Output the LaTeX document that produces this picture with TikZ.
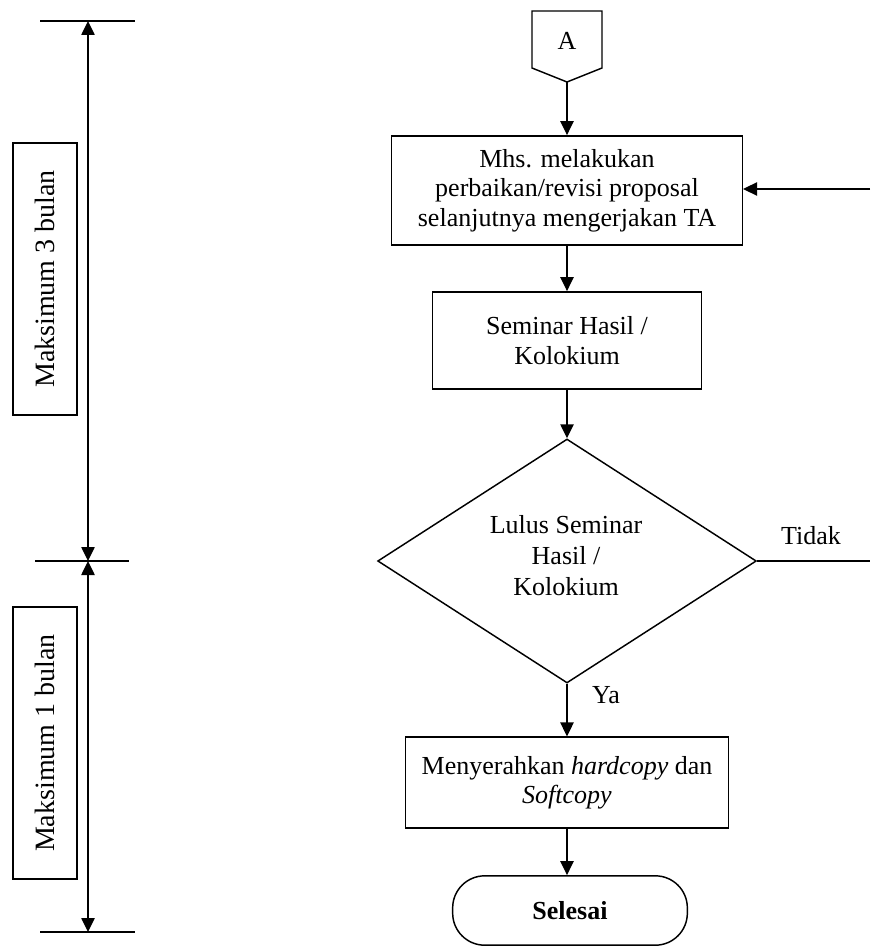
\documentclass[tikz,border=0pt]{standalone}
\usepackage{fontspec}
\setmainfont{Liberation Serif}
\usetikzlibrary{arrows.meta,shapes.geometric}
\begin{document}
\begin{tikzpicture}[x=0.75pt,y=-0.75pt,
  txt/.style={font=\fontsize{19.5}{22}\selectfont, inner sep=0pt, align=center},
  box/.style={txt, draw, line width=1.1pt},
  conn/.style={line width=1.1pt, -{Triangle[length=10.5pt,width=10pt]}},
  dconn/.style={line width=1.1pt, {Triangle[length=10.5pt,width=10pt]}-{Triangle[length=10.5pt,width=10pt]}},
  plain/.style={line width=1.1pt},
]
\useasboundingbox (0,0) rectangle (870,948);

% ---- off-page connector A ----
\draw[plain] (532,11) -- (602,11) -- (602,68) -- (567,82) -- (532,68) -- cycle;
\node[txt] (A) at (567,41) {A};
\coordinate (Atip) at (567,82);

% ---- process boxes ----
\node[box, minimum width=263pt, minimum height=82pt] (b1) at (567,190.5)
  {Mhs. melakukan\\perbaikan/revisi proposal\\selanjutnya mengerjakan TA};
\node[box, minimum width=202pt, minimum height=73pt] (b2) at (567,340.5)
  {Seminar Hasil /\\Kolokium};
\node[draw, line width=1.1pt, diamond, shape aspect=1.557, inner sep=0pt,
      minimum width=284pt, minimum height=183pt] (d) at (567,561) {};
\node[txt, font=\fontsize{19.5}{23.25}\selectfont] (dt) at (566,556)
  {Lulus Seminar\\Hasil /\\Kolokium};
\node[box, minimum width=242pt, minimum height=68pt] (b3) at (567,782.5)
  {Menyerahkan \textit{hardcopy} dan\\\textit{Softcopy}};
\node[txt, draw, line width=1.1pt, rounded corners=24pt, font=\fontsize{19.5}{22}\selectfont\bfseries,
      minimum width=176pt, minimum height=52pt] (t) at (570,910.5) {Selesai};

% ---- flow connectors ----
\draw[conn] (Atip) -- (b1.north);
\draw[conn] (b1.south) -- (b2.north);
\draw[conn] (b2.south) -- (d.north);
\draw[conn] (d.south) -- (b3.north);
\draw[conn] (b3.south) -- (t.north -| b3.south);

\coordinate (rin) at (870,189);
\draw[conn] (rin) -- (b1.east |- rin);
\coordinate (tout) at (870,561);
\draw[plain] (d.east) -- (tout);
\node[txt] (tidak) at (811,536) {Tidak};
\node[txt] (ya) at (606,695) {Ya};

% ---- left time scale ----
\coordinate (l1a) at (40,21);  \coordinate (l1b) at (135,21);
\coordinate (l2a) at (35,561); \coordinate (l2b) at (129,561);
\coordinate (l3a) at (40,932); \coordinate (l3b) at (135,932);
\draw[plain] (l1a) -- (l1b);
\draw[plain] (l2a) -- (l2b);
\draw[plain] (l3a) -- (l3b);
\coordinate (v1) at (88,21);
\coordinate (v2) at (88,561);
\coordinate (v3) at (88,932);
\draw[dconn] (v1) -- (v2);
\draw[dconn] (v2) -- (v3);

\node[box, rotate=90, font=\fontsize{21}{24}\selectfont, minimum width=204pt, minimum height=48pt] (m3) at (45,279) {Maksimum 3 bulan};
\node[box, rotate=90, font=\fontsize{21}{24}\selectfont, minimum width=204pt, minimum height=48pt] (m1) at (45,743) {Maksimum 1 bulan};
\end{tikzpicture}
\end{document}
